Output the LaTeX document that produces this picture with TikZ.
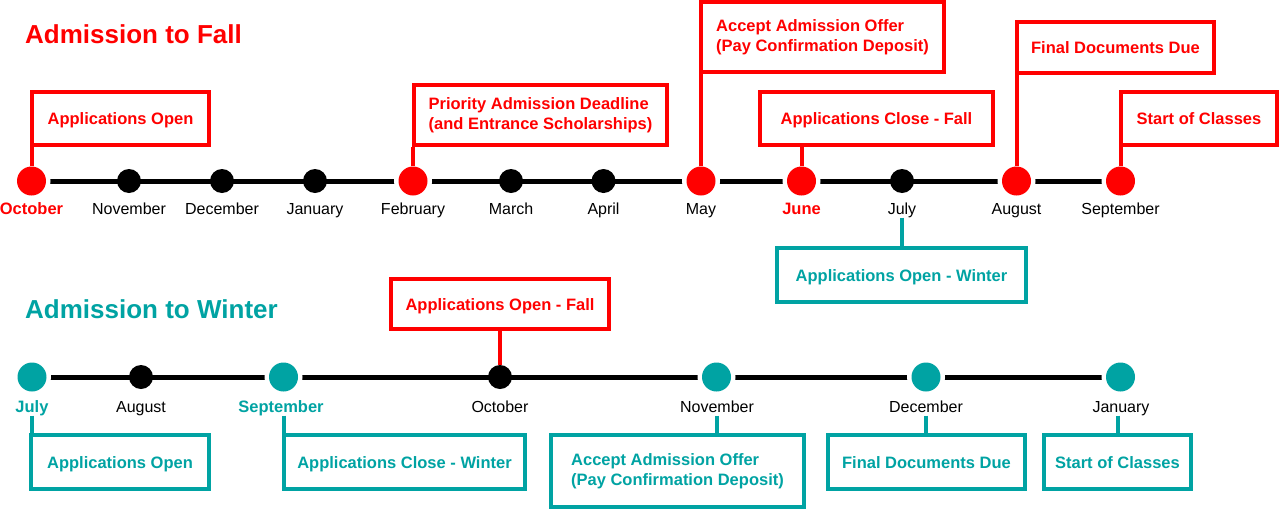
\documentclass[tikz,border=0pt]{standalone}
\usepackage{fontspec}
\setmainfont{Liberation Sans}
\definecolor{fred}{RGB}{255,0,0}
\definecolor{wteal}{RGB}{0,163,163}
\pgfdeclarelayer{bg}
\pgfdeclarelayer{mid}
\pgfsetlayers{bg,mid,main}
\begin{document}
\begin{tikzpicture}[x=1pt,y=-1pt,
  dotc/.style={circle,inner sep=0pt,minimum size=29pt},
  dotb/.style={circle,fill=black,inner sep=0pt,minimum size=24pt},
  mon/.style={anchor=base,inner sep=0pt,text depth=3.5pt,font=\fontsize{16}{19}\selectfont},
  monb/.style={anchor=base,inner sep=0pt,text depth=3.5pt,font=\fontsize{16.5}{19}\selectfont\bfseries},
  ebox/.style={draw,line width=4pt,inner sep=0pt,font=\fontsize{16.5}{20}\selectfont\bfseries,align=left},
  sline/.style={text height=12pt,text depth=0pt},
  conn/.style={line width=4pt},
  tline/.style={line width=5pt,black},
  halo/.style={fill=white},
  ttl/.style={anchor=base west,inner sep=0pt,font=\fontsize{26}{30}\selectfont\bfseries}
]
\useasboundingbox (0,0) rectangle (1280,509);

% titles
\node[ttl,text=fred] (t1) at (25,43.5) {Admission to Fall};
\node[ttl,text=wteal] (t2) at (25,318) {Admission to Winter};

% ---- Row 1 dots
\node[dotc,fill=fred] (dOct) at (31.5,181) {};
\node[dotb] (dNov) at (129,181) {};
\node[dotb] (dDec) at (222,181) {};
\node[dotb] (dJan) at (315,181) {};
\node[dotc,fill=fred] (dFeb) at (413,181) {};
\node[dotb] (dMar) at (511,181) {};
\node[dotb] (dApr) at (603.5,181) {};
\node[dotc,fill=fred] (dMay) at (701,181) {};
\node[dotc,fill=fred] (dJun) at (801.5,181) {};
\node[dotb] (dJul) at (902,181) {};
\node[dotc,fill=fred] (dAug) at (1016.5,181) {};
\node[dotc,fill=fred] (dSep) at (1120.5,181) {};

% Row 1 labels
\node[monb,text=fred] (lOct) at (31.5,214) {October};
\node[mon] (lNov) at (129,214) {November};
\node[mon] (lDec) at (222,214) {December};
\node[mon] (lJan) at (315,214) {January};
\node[mon] (lFeb) at (413,214) {February};
\node[mon] (lMar) at (511,214) {March};
\node[mon] (lApr) at (603.5,214) {April};
\node[mon] (lMay) at (701,214) {May};
\node[monb,text=fred] (lJun) at (801.5,214) {June};
\node[mon] (lJul) at (902,214) {July};
\node[mon] (lAug) at (1016.5,214) {August};
\node[mon] (lSep) at (1120.5,214) {September};

% Row 1 boxes
\node[ebox,sline,draw=fred,text=fred,minimum width=177pt,minimum height=53pt] (F1) at (120.5,118.5) {Applications Open};
\node[ebox,draw=fred,text=fred,minimum width=253pt,minimum height=60pt] (F2) at (540.5,115) {Priority Admission Deadline\\(and Entrance Scholarships)};
\node[ebox,draw=fred,text=fred,minimum width=243pt,minimum height=70pt] (F3) at (822.5,37) {Accept Admission Offer\\(Pay Confirmation Deposit)};
\node[ebox,sline,draw=fred,text=fred,minimum width=233pt,minimum height=53pt] (F4) at (876.5,118.5) {Applications Close - Fall};
\node[ebox,sline,draw=fred,text=fred,minimum width=197pt,minimum height=51pt] (F5) at (1115.5,47.5) {Final Documents Due};
\node[ebox,sline,draw=fred,text=fred,minimum width=156pt,minimum height=53pt] (F6) at (1199,118.5) {Start of Classes};
\node[ebox,sline,draw=wteal,text=wteal,minimum width=249pt,minimum height=54pt] (W0) at (901.5,275) {Applications Open - Winter};

% ---- Row 2 dots
\node[dotc,fill=wteal] (eJul) at (32,377) {};
\node[dotb] (eAug) at (141,377) {};
\node[dotc,fill=wteal] (eSep) at (283.5,377) {};
\node[dotb] (eOct) at (500,377) {};
\node[dotc,fill=wteal] (eNov) at (716.5,377) {};
\node[dotc,fill=wteal] (eDec) at (926,377) {};
\node[dotc,fill=wteal] (eJan) at (1120.5,377) {};

% Row 2 labels
\node[monb,text=wteal] (mJul) at (32,412) {July};
\node[mon] (mAug) at (141,412) {August};
\node[monb,text=wteal] (mSep) at (281,412) {September};
\node[mon] (mOct) at (500,412) {October};
\node[mon] (mNov) at (717,412) {November};
\node[mon] (mDec) at (926,412) {December};
\node[mon] (mJan) at (1121,412) {January};

% Row 2 boxes
\node[ebox,sline,draw=fred,text=fred,minimum width=218pt,minimum height=50pt] (R1) at (500,304) {Applications Open - Fall};
\node[ebox,sline,draw=wteal,text=wteal,minimum width=178pt,minimum height=54pt] (W1) at (120,462) {Applications Open};
\node[ebox,sline,draw=wteal,text=wteal,minimum width=241pt,minimum height=54pt] (W2) at (404.5,462) {Applications Close - Winter};
\node[ebox,draw=wteal,text=wteal,minimum width=253pt,minimum height=72pt] (W3) at (677.5,471) {Accept Admission Offer\\(Pay Confirmation Deposit)};
\node[ebox,sline,draw=wteal,text=wteal,minimum width=197pt,minimum height=54pt] (W4) at (926.5,462) {Final Documents Due};
\node[ebox,sline,draw=wteal,text=wteal,minimum width=147pt,minimum height=54pt] (W5) at (1117.5,462) {Start of Classes};

% timelines and halos
\begin{pgfonlayer}{bg}
  \fill[white] (0,0) rectangle (1280,509);
  \draw[tline] (dOct) -- (dSep);
  \draw[tline] (eJul) -- (eJan);
  \foreach \d in {dOct,dFeb,dMay,dJun,dAug,dSep,eJul,eSep,eNov,eDec,eJan}
    \fill[halo] (\d) circle (19pt);
\end{pgfonlayer}

% connectors
\begin{pgfonlayer}{mid}
  \draw[conn,fred] (dOct) -- (dOct |- F1.south);
  \draw[conn,fred] (dFeb) -- (dFeb |- F2.south);
  \draw[conn,fred] (dMay) -- (dMay |- F3.south);
  \draw[conn,fred] (dJun) -- (dJun |- F4.south);
  \draw[conn,fred] (dAug) -- (dAug |- F5.south);
  \draw[conn,fred] (dSep) -- (dSep |- F6.south);
  \draw[conn,wteal] (lJul.south) -- (lJul.south |- W0.north);
  \draw[conn,fred] (eOct) -- (eOct |- R1.south);
  \draw[conn,wteal] (eJul |- mJul.south) -- (eJul |- W1.north);
  \draw[conn,wteal] (eSep |- mSep.south) -- (eSep |- W2.north);
  \draw[conn,wteal] (eNov |- mNov.south) -- (eNov |- W3.north);
  \draw[conn,wteal] (eDec |- mDec.south) -- (eDec |- W4.north);
  \draw[conn,wteal] (mJan.south -| W5.north) -- (W5.north);
\end{pgfonlayer}
\end{tikzpicture}
\end{document}
